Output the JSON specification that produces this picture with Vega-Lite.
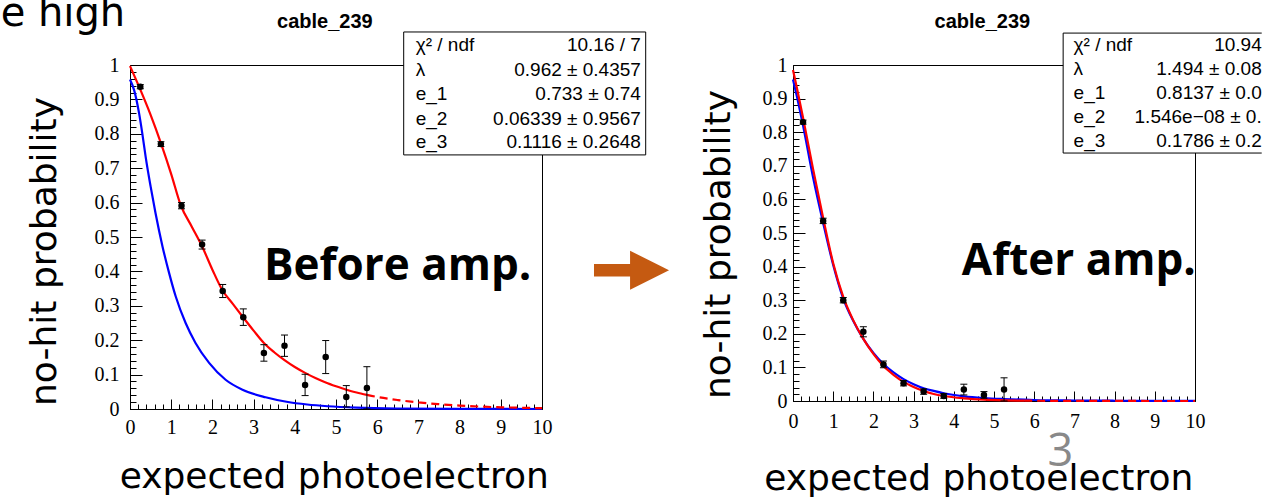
{
  "$schema": "https://vega.github.io/schema/vega-lite/v6.json",
  "background": "white",
  "padding": {"left": 0, "top": -7, "right": 0, "bottom": 0},
  "spacing": 251,
  "bounds": "flush",
  "datasets": {
    "lpts": [
      {"x": 0.25, "y": 0.937, "lo": 0.931, "hi": 0.943},
      {"x": 0.75, "y": 0.770, "lo": 0.763, "hi": 0.777},
      {"x": 1.25, "y": 0.591, "lo": 0.582, "hi": 0.600},
      {"x": 1.75, "y": 0.478, "lo": 0.465, "hi": 0.491},
      {"x": 2.25, "y": 0.343, "lo": 0.324, "hi": 0.362},
      {"x": 2.75, "y": 0.267, "lo": 0.243, "hi": 0.291},
      {"x": 3.25, "y": 0.163, "lo": 0.139, "hi": 0.187},
      {"x": 3.75, "y": 0.184, "lo": 0.153, "hi": 0.215},
      {"x": 4.25, "y": 0.070, "lo": 0.039, "hi": 0.101},
      {"x": 4.75, "y": 0.151, "lo": 0.103, "hi": 0.199},
      {"x": 5.25, "y": 0.035, "lo": 0.006, "hi": 0.068},
      {"x": 5.75, "y": 0.061, "lo": 0.0, "hi": 0.123}
    ],
    "lcurves": [
      {"x": 0, "y": 0.958, "c": "model", "s": "solid"},
      {"x": 0.1, "y": 0.927, "c": "model", "s": "solid"},
      {"x": 0.22, "y": 0.86, "c": "model", "s": "solid"},
      {"x": 0.3, "y": 0.80, "c": "model", "s": "solid"},
      {"x": 0.38, "y": 0.733, "c": "model", "s": "solid"},
      {"x": 0.5, "y": 0.647, "c": "model", "s": "solid"},
      {"x": 0.62, "y": 0.569, "c": "model", "s": "solid"},
      {"x": 0.79, "y": 0.472, "c": "model", "s": "solid"},
      {"x": 0.95, "y": 0.395, "c": "model", "s": "solid"},
      {"x": 1.11, "y": 0.327, "c": "model", "s": "solid"},
      {"x": 1.35, "y": 0.25, "c": "model", "s": "solid"},
      {"x": 1.59, "y": 0.192, "c": "model", "s": "solid"},
      {"x": 1.92, "y": 0.134, "c": "model", "s": "solid"},
      {"x": 2.32, "y": 0.085, "c": "model", "s": "solid"},
      {"x": 2.73, "y": 0.056, "c": "model", "s": "solid"},
      {"x": 3.29, "y": 0.034, "c": "model", "s": "solid"},
      {"x": 3.8, "y": 0.021, "c": "model", "s": "solid"},
      {"x": 4.3, "y": 0.013, "c": "model", "s": "solid"},
      {"x": 4.8, "y": 0.008, "c": "model", "s": "solid"},
      {"x": 5.5, "y": 0.004, "c": "model", "s": "solid"},
      {"x": 6.5, "y": 0.0015, "c": "model", "s": "solid"},
      {"x": 8, "y": 0.0004, "c": "model", "s": "solid"},
      {"x": 10, "y": 0.0, "c": "model", "s": "solid"},
      {"x": 0, "y": 0.997, "c": "fit", "s": "solid"},
      {"x": 0.22, "y": 0.937, "c": "fit", "s": "solid"},
      {"x": 0.5, "y": 0.855, "c": "fit", "s": "solid"},
      {"x": 0.75, "y": 0.773, "c": "fit", "s": "solid"},
      {"x": 1.0, "y": 0.683, "c": "fit", "s": "solid"},
      {"x": 1.23, "y": 0.593, "c": "fit", "s": "solid"},
      {"x": 1.5, "y": 0.53, "c": "fit", "s": "solid"},
      {"x": 1.76, "y": 0.47, "c": "fit", "s": "solid"},
      {"x": 2.0, "y": 0.405, "c": "fit", "s": "solid"},
      {"x": 2.24, "y": 0.346, "c": "fit", "s": "solid"},
      {"x": 2.5, "y": 0.305, "c": "fit", "s": "solid"},
      {"x": 2.73, "y": 0.269, "c": "fit", "s": "solid"},
      {"x": 3.0, "y": 0.228, "c": "fit", "s": "solid"},
      {"x": 3.25, "y": 0.192, "c": "fit", "s": "solid"},
      {"x": 3.5, "y": 0.165, "c": "fit", "s": "solid"},
      {"x": 3.75, "y": 0.142, "c": "fit", "s": "solid"},
      {"x": 4.0, "y": 0.122, "c": "fit", "s": "solid"},
      {"x": 4.25, "y": 0.105, "c": "fit", "s": "solid"},
      {"x": 4.5, "y": 0.09, "c": "fit", "s": "solid"},
      {"x": 4.75, "y": 0.077, "c": "fit", "s": "solid"},
      {"x": 5.0, "y": 0.066, "c": "fit", "s": "solid"},
      {"x": 5.25, "y": 0.056, "c": "fit", "s": "solid"},
      {"x": 5.5, "y": 0.048, "c": "fit", "s": "solid"},
      {"x": 5.75, "y": 0.041, "c": "fit", "s": "solid"},
      {"x": 5.75, "y": 0.041, "c": "fit", "s": "dashed"},
      {"x": 6.0, "y": 0.035, "c": "fit", "s": "dashed"},
      {"x": 6.5, "y": 0.026, "c": "fit", "s": "dashed"},
      {"x": 7.0, "y": 0.019, "c": "fit", "s": "dashed"},
      {"x": 7.5, "y": 0.014, "c": "fit", "s": "dashed"},
      {"x": 8.0, "y": 0.01, "c": "fit", "s": "dashed"},
      {"x": 8.5, "y": 0.007, "c": "fit", "s": "dashed"},
      {"x": 9.0, "y": 0.005, "c": "fit", "s": "dashed"},
      {"x": 9.5, "y": 0.0035, "c": "fit", "s": "dashed"},
      {"x": 10.0, "y": 0.0025, "c": "fit", "s": "dashed"}
    ],
    "lstats": [
      {"k": "χ² / ndf", "v": "10.16 / 7", "y": 1.0581},
      {"k": "λ", "v": "0.962 ± 0.4357", "y": 0.9855},
      {"k": "e_1", "v": "0.733 ±  0.74", "y": 0.9143},
      {"k": "e_2", "v": "0.06339 ± 0.9567", "y": 0.8432},
      {"k": "e_3", "v": "0.1116 ± 0.2648", "y": 0.7749}
    ],
    "rpts": [
      {"x": 0.25, "y": 0.830, "lo": 0.824, "hi": 0.836},
      {"x": 0.75, "y": 0.536, "lo": 0.528, "hi": 0.544},
      {"x": 1.25, "y": 0.300, "lo": 0.292, "hi": 0.308},
      {"x": 1.75, "y": 0.206, "lo": 0.191, "hi": 0.221},
      {"x": 2.25, "y": 0.109, "lo": 0.099, "hi": 0.119},
      {"x": 2.75, "y": 0.053, "lo": 0.045, "hi": 0.061},
      {"x": 3.25, "y": 0.028, "lo": 0.020, "hi": 0.036},
      {"x": 3.75, "y": 0.015, "lo": 0.008, "hi": 0.022},
      {"x": 4.25, "y": 0.034, "lo": 0.018, "hi": 0.050},
      {"x": 4.75, "y": 0.018, "lo": 0.008, "hi": 0.028},
      {"x": 5.25, "y": 0.034, "lo": 0.0, "hi": 0.069}
    ],
    "rcurves": [
      {"x": 0, "y": 0.957, "c": "model", "s": "solid"},
      {"x": 0.1, "y": 0.905, "c": "model", "s": "solid"},
      {"x": 0.25, "y": 0.82, "c": "model", "s": "solid"},
      {"x": 0.5, "y": 0.665, "c": "model", "s": "solid"},
      {"x": 0.75, "y": 0.53, "c": "model", "s": "solid"},
      {"x": 1.0, "y": 0.405, "c": "model", "s": "solid"},
      {"x": 1.25, "y": 0.305, "c": "model", "s": "solid"},
      {"x": 1.5, "y": 0.238, "c": "model", "s": "solid"},
      {"x": 1.75, "y": 0.185, "c": "model", "s": "solid"},
      {"x": 2.0, "y": 0.143, "c": "model", "s": "solid"},
      {"x": 2.25, "y": 0.11, "c": "model", "s": "solid"},
      {"x": 2.5, "y": 0.085, "c": "model", "s": "solid"},
      {"x": 2.75, "y": 0.065, "c": "model", "s": "solid"},
      {"x": 3.0, "y": 0.05, "c": "model", "s": "solid"},
      {"x": 3.25, "y": 0.038, "c": "model", "s": "solid"},
      {"x": 3.5, "y": 0.03, "c": "model", "s": "solid"},
      {"x": 3.75, "y": 0.023, "c": "model", "s": "solid"},
      {"x": 4.25, "y": 0.014, "c": "model", "s": "solid"},
      {"x": 4.75, "y": 0.009, "c": "model", "s": "solid"},
      {"x": 5.25, "y": 0.006, "c": "model", "s": "solid"},
      {"x": 6.0, "y": 0.003, "c": "model", "s": "solid"},
      {"x": 7.0, "y": 0.0015, "c": "model", "s": "solid"},
      {"x": 8.0, "y": 0.0008, "c": "model", "s": "solid"},
      {"x": 9.0, "y": 0.0004, "c": "model", "s": "solid"},
      {"x": 10.0, "y": 0.0002, "c": "model", "s": "solid"},
      {"x": 0, "y": 0.985, "c": "fit", "s": "solid"},
      {"x": 0.1, "y": 0.93, "c": "fit", "s": "solid"},
      {"x": 0.25, "y": 0.843, "c": "fit", "s": "solid"},
      {"x": 0.5, "y": 0.69, "c": "fit", "s": "solid"},
      {"x": 0.75, "y": 0.545, "c": "fit", "s": "solid"},
      {"x": 1.0, "y": 0.41, "c": "fit", "s": "solid"},
      {"x": 1.25, "y": 0.31, "c": "fit", "s": "solid"},
      {"x": 1.5, "y": 0.24, "c": "fit", "s": "solid"},
      {"x": 1.75, "y": 0.185, "c": "fit", "s": "solid"},
      {"x": 2.0, "y": 0.14, "c": "fit", "s": "solid"},
      {"x": 2.25, "y": 0.104, "c": "fit", "s": "solid"},
      {"x": 2.5, "y": 0.078, "c": "fit", "s": "solid"},
      {"x": 2.75, "y": 0.057, "c": "fit", "s": "solid"},
      {"x": 3.0, "y": 0.042, "c": "fit", "s": "solid"},
      {"x": 3.25, "y": 0.03, "c": "fit", "s": "solid"},
      {"x": 3.5, "y": 0.021, "c": "fit", "s": "solid"},
      {"x": 3.75, "y": 0.015, "c": "fit", "s": "solid"},
      {"x": 4.25, "y": 0.008, "c": "fit", "s": "solid"},
      {"x": 4.75, "y": 0.004, "c": "fit", "s": "solid"},
      {"x": 5.25, "y": 0.002, "c": "fit", "s": "solid"},
      {"x": 5.75, "y": 0.001, "c": "fit", "s": "solid"},
      {"x": 5.75, "y": 0.001, "c": "fit", "s": "dashed"},
      {"x": 7.0, "y": 0.0003, "c": "fit", "s": "dashed"},
      {"x": 8.5, "y": 0.0001, "c": "fit", "s": "dashed"},
      {"x": 10.0, "y": 0.0, "c": "fit", "s": "dashed"}
    ],
    "rstats": [
      {"k": "χ² / ndf", "v": "10.94", "y": 1.0595},
      {"k": "λ", "v": "1.494 ± 0.08", "y": 0.9881},
      {"k": "e_1", "v": "0.8137 ± 0.0", "y": 0.9167},
      {"k": "e_2", "v": "1.546e−08 ± 0.", "y": 0.8452},
      {"k": "e_3", "v": "0.1786 ± 0.2", "y": 0.7738}
    ]
  },
  "hconcat": [
    {
      "width": 412,
      "height": 344,
      "resolve": {"axis": {"x": "independent", "y": "independent"}},
      "layer": [
        {
          "data": {"name": "lcurves"},
          "transform": [{"filter": "datum.s === 'solid'"}],
          "mark": {"type": "line", "strokeWidth": 2.2, "interpolate": "monotone"},
          "encoding": {
            "x": {"field": "x", "type": "quantitative", "scale": {"domain": [0, 10], "nice": false, "zero": false},
              "axis": {"orient": "bottom", "values": [0,1,2,3,4,5,6,7,8,9,10], "format": "d", "tickSize": -10, "labelPadding": 18.5,
                "labelFont": "Liberation Serif", "labelFontSize": 20, "labelColor": "black", "labelFlush": false, "labelOverlap": false,
                "title": "expected photoelectron", "titleFont": "DejaVu Sans", "titleFontSize": 36, "titleFontWeight": "normal", "titleColor": "black",
                "titleX": 203.7, "titleY": 78.7, "titleBaseline": "alphabetic", "titleAlign": "center"}},
            "y": {"field": "y", "type": "quantitative", "scale": {"domain": [0, 1], "nice": false},
              "axis": {"orient": "left", "values": [0,0.1,0.2,0.3,0.4,0.5,0.6,0.7,0.8,0.9,1], "format": "~g", "tickSize": -12, "labelPadding": 23,
                "labelFont": "Liberation Serif", "labelFontSize": 20, "labelColor": "black", "labelFlush": false, "labelOverlap": false,
                "title": "no-hit probability", "titleFont": "DejaVu Sans", "titleFontSize": 36, "titleFontWeight": "normal", "titleColor": "black",
                "titleX": -74.5, "titleY": 186, "titleAngle": 270, "titleBaseline": "alphabetic", "titleAlign": "center"}},
            "color": {"field": "c", "type": "nominal", "scale": {"domain": ["fit", "model"], "range": ["#ff0000", "#0000ff"]}, "legend": null}
          }
        },
        {
          "data": {"name": "lcurves"},
          "transform": [{"filter": "datum.s === 'dashed'"}],
          "mark": {"type": "line", "strokeWidth": 2.2, "color": "#ff0000", "strokeDash": [8, 5], "interpolate": "monotone"},
          "encoding": {
            "x": {"field": "x", "type": "quantitative", "axis": null},
            "y": {"field": "y", "type": "quantitative", "axis": null}
          }
        },
        {
          "data": {"name": "lpts"},
          "mark": {"type": "rule", "color": "black", "strokeWidth": 1},
          "encoding": {
            "x": {"field": "x", "type": "quantitative",
              "axis": {"orient": "bottom", "values": [0.2,0.4,0.6,0.8,1.2,1.4,1.6,1.8,2.2,2.4,2.6,2.8,3.2,3.4,3.6,3.8,4.2,4.4,4.6,4.8,5.2,5.4,5.6,5.8,6.2,6.4,6.6,6.8,7.2,7.4,7.6,7.8,8.2,8.4,8.6,8.8,9.2,9.4,9.6,9.8],
                "tickSize": -5, "labels": false, "domain": false, "title": null}},
            "y": {"field": "lo", "type": "quantitative",
              "axis": {"orient": "left", "values": [0.02,0.04,0.06,0.08,0.12,0.14,0.16,0.18,0.22,0.24,0.26,0.28,0.32,0.34,0.36,0.38,0.42,0.44,0.46,0.48,0.52,0.54,0.56,0.58,0.62,0.64,0.66,0.68,0.72,0.74,0.76,0.78,0.82,0.84,0.86,0.88,0.92,0.94,0.96,0.98],
                "tickSize": -6, "labels": false, "domain": false, "title": null}},
            "y2": {"field": "hi"}
          }
        },
        {
          "data": {"name": "lpts"},
          "mark": {"type": "point", "shape": "stroke", "size": 49, "color": "black", "strokeWidth": 1, "opacity": 1},
          "encoding": {
            "x": {"field": "x", "type": "quantitative", "axis": null},
            "y": {"field": "hi", "type": "quantitative", "axis": null}
          }
        },
        {
          "data": {"name": "lpts"},
          "mark": {"type": "point", "shape": "stroke", "size": 49, "color": "black", "strokeWidth": 1, "opacity": 1},
          "encoding": {
            "x": {"field": "x", "type": "quantitative", "axis": null},
            "y": {"field": "lo", "type": "quantitative", "axis": null}
          }
        },
        {
          "data": {"name": "lpts"},
          "mark": {"type": "point", "shape": "circle", "filled": true, "size": 42, "color": "black", "opacity": 1},
          "encoding": {
            "x": {"field": "x", "type": "quantitative", "axis": null},
            "y": {"field": "y", "type": "quantitative", "axis": null}
          }
        },
        {
          "data": {"values": [{}]},
          "mark": {"type": "rect", "fill": "white", "stroke": "black", "strokeWidth": 1},
          "encoding": {
            "x": {"datum": 6.643, "type": "quantitative", "axis": null},
            "x2": {"datum": 12.517},
            "y": {"datum": 1.096, "type": "quantitative", "axis": null},
            "y2": {"datum": 0.7386}
          }
        },
        {
          "data": {"name": "lstats"},
          "mark": {"type": "text", "align": "left", "baseline": "middle", "font": "Liberation Sans", "fontSize": 19, "color": "black"},
          "encoding": {
            "x": {"datum": 6.934, "type": "quantitative", "axis": null},
            "y": {"field": "y", "type": "quantitative", "axis": null},
            "text": {"field": "k"}
          }
        },
        {
          "data": {"name": "lstats"},
          "mark": {"type": "text", "align": "right", "baseline": "middle", "font": "Liberation Sans", "fontSize": 19, "color": "black"},
          "encoding": {
            "x": {"datum": 12.40, "type": "quantitative", "axis": null},
            "y": {"field": "y", "type": "quantitative", "axis": null},
            "text": {"field": "v"}
          }
        },
        {
          "data": {"values": [{}]},
          "mark": {"type": "text", "text": "cable_239", "align": "center", "baseline": "middle", "font": "Liberation Sans", "fontWeight": "bold", "fontSize": 20, "color": "black"},
          "encoding": {
            "x": {"datum": 4.73, "type": "quantitative", "axis": null},
            "y": {"datum": 1.125, "type": "quantitative", "axis": null}
          }
        },
        {
          "data": {"values": [{}]},
          "mark": {"type": "text", "text": "Before amp.", "align": "left", "baseline": "alphabetic", "font": "Open Sans", "fontWeight": "bold", "fontSize": 44, "color": "black"},
          "encoding": {
            "x": {"datum": 3.25, "type": "quantitative", "axis": null},
            "y": {"datum": 0.3755, "type": "quantitative", "axis": null}
          }
        },
        {
          "data": {"values": [{}]},
          "mark": {"type": "rule", "color": "#C55A11", "strokeWidth": 12.7, "strokeCap": "butt"},
          "encoding": {
            "x": {"datum": 11.262, "type": "quantitative", "axis": null},
            "x2": {"datum": 12.27},
            "y": {"datum": 0.4034, "type": "quantitative", "axis": null}
          }
        },
        {
          "data": {"values": [{}]},
          "mark": {"type": "point", "shape": "M-1,-1L1,0L-1,1Z", "size": 1521, "filled": true, "color": "#C55A11", "opacity": 1, "strokeWidth": 0},
          "encoding": {
            "x": {"datum": 12.61, "type": "quantitative", "axis": null},
            "y": {"datum": 0.4034, "type": "quantitative", "axis": null}
          }
        },
        {
          "data": {"values": [{}]},
          "mark": {"type": "text", "text": "e high", "align": "left", "baseline": "alphabetic", "font": "DejaVu Sans", "fontSize": 40, "color": "black"},
          "encoding": {
            "x": {"datum": -3.14, "type": "quantitative", "axis": null},
            "y": {"datum": 1.112, "type": "quantitative", "axis": null}
          }
        }
      ]
    },
    {
      "width": 402,
      "height": 336,
      "resolve": {"axis": {"x": "independent", "y": "independent"}},
      "layer": [
        {
          "data": {"name": "rcurves"},
          "transform": [{"filter": "datum.s === 'solid'"}],
          "mark": {"type": "line", "strokeWidth": 2.2, "interpolate": "monotone"},
          "encoding": {
            "x": {"field": "x", "type": "quantitative", "scale": {"domain": [0, 10], "nice": false, "zero": false},
              "axis": {"orient": "bottom", "values": [0,1,2,3,4,5,6,7,8,9,10], "format": "d", "tickSize": -10, "labelPadding": 20.5,
                "labelFont": "Liberation Serif", "labelFontSize": 20, "labelColor": "black", "labelFlush": false, "labelOverlap": false,
                "title": "expected photoelectron", "titleFont": "DejaVu Sans", "titleFontSize": 36, "titleFontWeight": "normal", "titleColor": "black",
                "titleX": 185.3, "titleY": 88, "titleBaseline": "alphabetic", "titleAlign": "center"}},
            "y": {"field": "y", "type": "quantitative", "scale": {"domain": [0, 1], "nice": false},
              "axis": {"orient": "left", "values": [0,0.1,0.2,0.3,0.4,0.5,0.6,0.7,0.8,0.9,1], "format": "~g", "tickSize": -12, "labelPadding": 18,
                "labelFont": "Liberation Serif", "labelFontSize": 20, "labelColor": "black", "labelFlush": false, "labelOverlap": false,
                "title": "no-hit probability", "titleFont": "DejaVu Sans", "titleFontSize": 36, "titleFontWeight": "normal", "titleColor": "black",
                "titleX": -63.2, "titleY": 179, "titleAngle": 270, "titleBaseline": "alphabetic", "titleAlign": "center"}},
            "color": {"field": "c", "type": "nominal", "scale": {"domain": ["fit", "model"], "range": ["#ff0000", "#0000ff"]}, "legend": null}
          }
        },
        {
          "data": {"name": "rcurves"},
          "transform": [{"filter": "datum.s === 'dashed'"}],
          "mark": {"type": "line", "strokeWidth": 2.2, "color": "#ff0000", "strokeDash": [8, 5], "interpolate": "monotone"},
          "encoding": {
            "x": {"field": "x", "type": "quantitative", "axis": null},
            "y": {"field": "y", "type": "quantitative", "axis": null}
          }
        },
        {
          "data": {"name": "rpts"},
          "mark": {"type": "rule", "color": "black", "strokeWidth": 1},
          "encoding": {
            "x": {"field": "x", "type": "quantitative",
              "axis": {"orient": "bottom", "values": [0.2,0.4,0.6,0.8,1.2,1.4,1.6,1.8,2.2,2.4,2.6,2.8,3.2,3.4,3.6,3.8,4.2,4.4,4.6,4.8,5.2,5.4,5.6,5.8,6.2,6.4,6.6,6.8,7.2,7.4,7.6,7.8,8.2,8.4,8.6,8.8,9.2,9.4,9.6,9.8],
                "tickSize": -5, "labels": false, "domain": false, "title": null}},
            "y": {"field": "lo", "type": "quantitative",
              "axis": {"orient": "left", "values": [0.02,0.04,0.06,0.08,0.12,0.14,0.16,0.18,0.22,0.24,0.26,0.28,0.32,0.34,0.36,0.38,0.42,0.44,0.46,0.48,0.52,0.54,0.56,0.58,0.62,0.64,0.66,0.68,0.72,0.74,0.76,0.78,0.82,0.84,0.86,0.88,0.92,0.94,0.96,0.98],
                "tickSize": -6, "labels": false, "domain": false, "title": null}},
            "y2": {"field": "hi"}
          }
        },
        {
          "data": {"name": "rpts"},
          "mark": {"type": "point", "shape": "stroke", "size": 49, "color": "black", "strokeWidth": 1, "opacity": 1},
          "encoding": {
            "x": {"field": "x", "type": "quantitative", "axis": null},
            "y": {"field": "hi", "type": "quantitative", "axis": null}
          }
        },
        {
          "data": {"name": "rpts"},
          "mark": {"type": "point", "shape": "stroke", "size": 49, "color": "black", "strokeWidth": 1, "opacity": 1},
          "encoding": {
            "x": {"field": "x", "type": "quantitative", "axis": null},
            "y": {"field": "lo", "type": "quantitative", "axis": null}
          }
        },
        {
          "data": {"name": "rpts"},
          "mark": {"type": "point", "shape": "circle", "filled": true, "size": 42, "color": "black", "opacity": 1},
          "encoding": {
            "x": {"field": "x", "type": "quantitative", "axis": null},
            "y": {"field": "y", "type": "quantitative", "axis": null}
          }
        },
        {
          "data": {"values": [{}]},
          "mark": {"type": "rect", "fill": "white", "strokeWidth": 0},
          "encoding": {
            "x": {"datum": 6.72, "type": "quantitative", "axis": null},
            "x2": {"datum": 11.66},
            "y": {"datum": 1.095, "type": "quantitative", "axis": null},
            "y2": {"datum": 0.738}
          }
        },
        {
          "data": {"values": [{"a": 1.095}, {"a": 0.738}]},
          "mark": {"type": "rule", "color": "black", "strokeWidth": 1},
          "encoding": {
            "x": {"datum": 6.72, "type": "quantitative", "axis": null},
            "x2": {"datum": 11.66},
            "y": {"field": "a", "type": "quantitative", "axis": null}
          }
        },
        {
          "data": {"values": [{}]},
          "mark": {"type": "rule", "color": "black", "strokeWidth": 1},
          "encoding": {
            "x": {"datum": 6.72, "type": "quantitative", "axis": null},
            "y": {"datum": 1.095, "type": "quantitative", "axis": null},
            "y2": {"datum": 0.738}
          }
        },
        {
          "data": {"name": "rstats"},
          "mark": {"type": "text", "align": "left", "baseline": "middle", "font": "Liberation Sans", "fontSize": 19, "color": "black"},
          "encoding": {
            "x": {"datum": 6.98, "type": "quantitative", "axis": null},
            "y": {"field": "y", "type": "quantitative", "axis": null},
            "text": {"field": "k"}
          }
        },
        {
          "data": {"name": "rstats"},
          "mark": {"type": "text", "align": "right", "baseline": "middle", "font": "Liberation Sans", "fontSize": 19, "color": "black"},
          "encoding": {
            "x": {"datum": 11.66, "type": "quantitative", "axis": null},
            "y": {"field": "y", "type": "quantitative", "axis": null},
            "text": {"field": "v"}
          }
        },
        {
          "data": {"values": [{}]},
          "mark": {"type": "text", "text": "cable_239", "align": "center", "baseline": "middle", "font": "Liberation Sans", "fontWeight": "bold", "fontSize": 20, "color": "black"},
          "encoding": {
            "x": {"datum": 4.71, "type": "quantitative", "axis": null},
            "y": {"datum": 1.128, "type": "quantitative", "axis": null}
          }
        },
        {
          "data": {"values": [{}]},
          "mark": {"type": "text", "text": "After amp.", "align": "left", "baseline": "alphabetic", "font": "Open Sans", "fontWeight": "bold", "fontSize": 44, "color": "black"},
          "encoding": {
            "x": {"datum": 4.2, "type": "quantitative", "axis": null},
            "y": {"datum": 0.375, "type": "quantitative", "axis": null}
          }
        },
        {
          "data": {"values": [{}]},
          "mark": {"type": "text", "text": "3", "align": "center", "baseline": "alphabetic", "font": "Open Sans", "fontSize": 45, "color": "#898989"},
          "encoding": {
            "x": {"datum": 6.65, "type": "quantitative", "axis": null},
            "y": {"datum": -0.1935, "type": "quantitative", "axis": null}
          }
        }
      ]
    }
  ],
  "config": {
    "view": {"stroke": "black", "strokeWidth": 1},
    "axis": {"grid": false, "domainColor": "black", "domainWidth": 1, "tickColor": "black", "tickWidth": 1, "labelColor": "black"}
  }
}
